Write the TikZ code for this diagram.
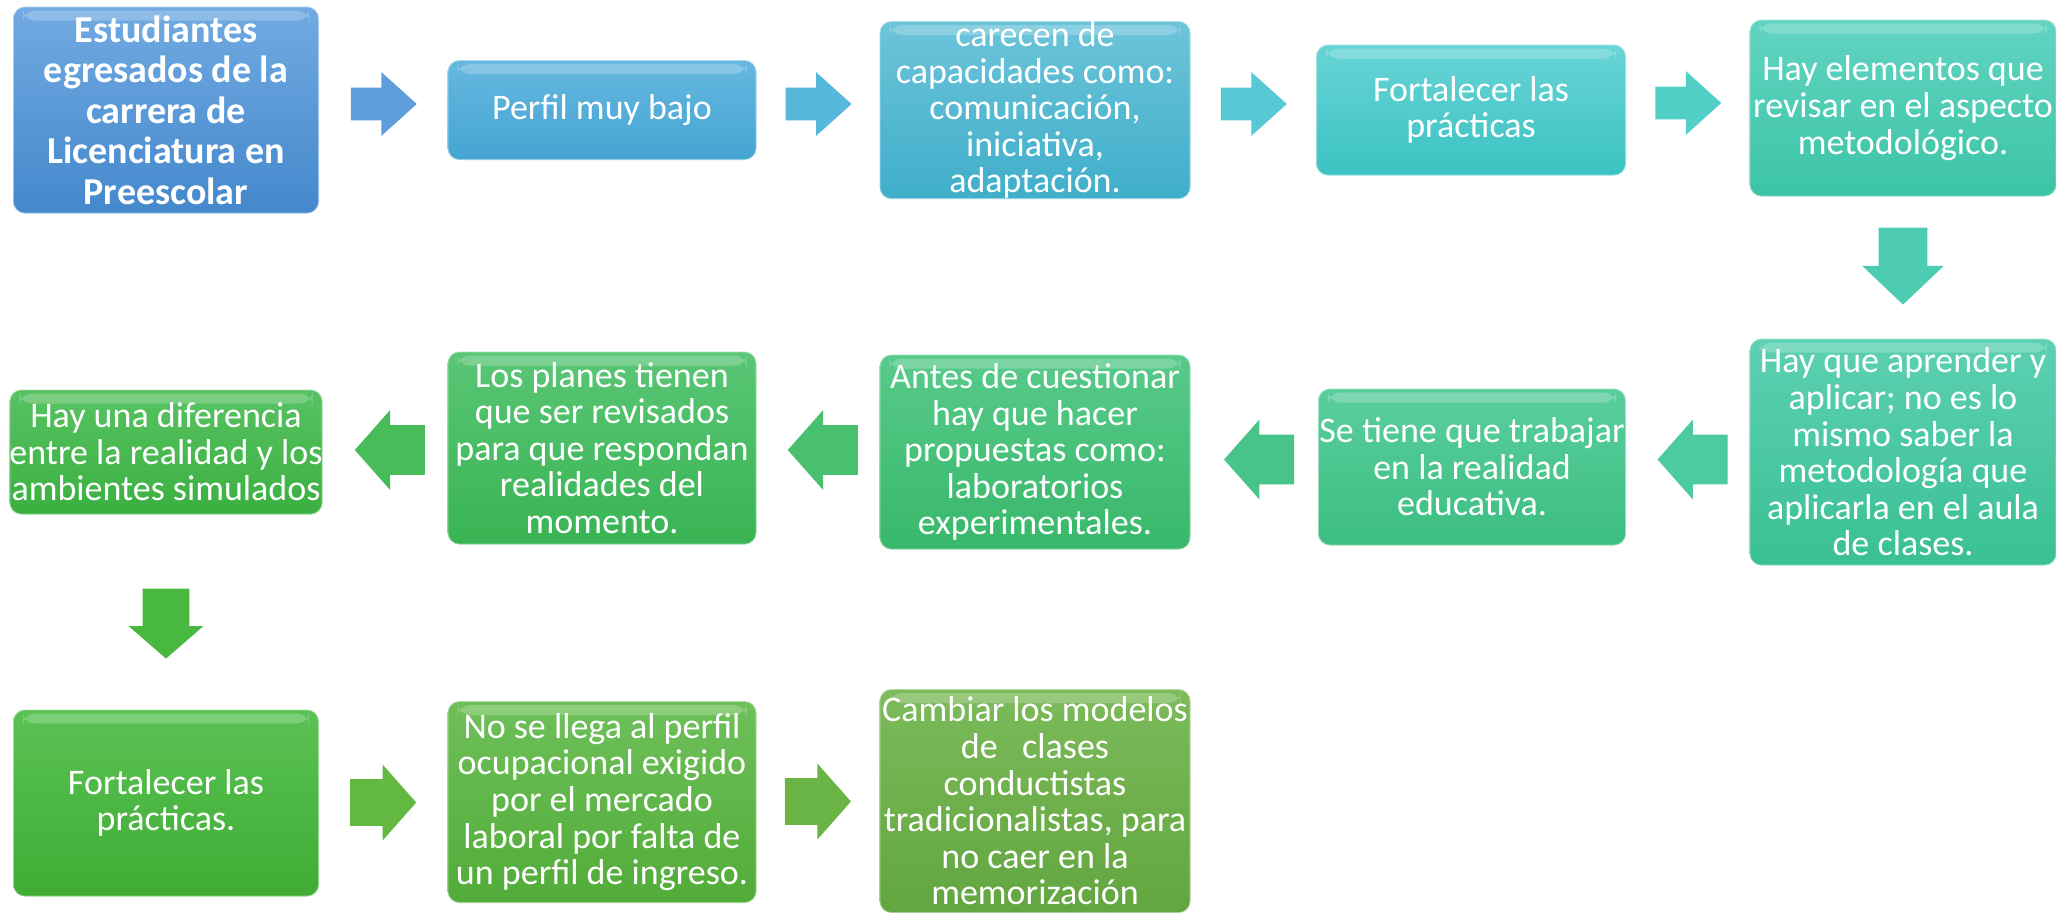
\documentclass[tikz,border=0pt]{standalone}
\usepackage{fontspec}
\setmainfont{Carlito}
\usetikzlibrary{shapes.arrows,calc}

\definecolor{c1t}{HTML}{72AAE2}\definecolor{c1b}{HTML}{4488CC}
\definecolor{c2t}{HTML}{66B8E0}\definecolor{c2b}{HTML}{44A4D2}
\definecolor{c3t}{HTML}{6CC4DA}\definecolor{c3b}{HTML}{40AECA}
\definecolor{c4t}{HTML}{68D4D6}\definecolor{c4b}{HTML}{3CC2C2}
\definecolor{c5t}{HTML}{62D4C2}\definecolor{c5b}{HTML}{3CC4A6}
\definecolor{c6t}{HTML}{5CD0B2}\definecolor{c6b}{HTML}{3AC094}
\definecolor{c7t}{HTML}{5ACE9E}\definecolor{c7b}{HTML}{3CBE80}
\definecolor{c8t}{HTML}{58CA8A}\definecolor{c8b}{HTML}{38B86A}
\definecolor{c9t}{HTML}{5AC676}\definecolor{c9b}{HTML}{38B452}
\definecolor{c10t}{HTML}{58C262}\definecolor{c10b}{HTML}{3AB040}
\definecolor{c11t}{HTML}{5AC254}\definecolor{c11b}{HTML}{40AC34}
\definecolor{c12t}{HTML}{6EC05A}\definecolor{c12b}{HTML}{52AC38}
\definecolor{c13t}{HTML}{7CBA5A}\definecolor{c13b}{HTML}{62A640}
\definecolor{a1c}{HTML}{5E9EDC}\definecolor{a2c}{HTML}{56B8DA}
\definecolor{a3c}{HTML}{56C8D6}\definecolor{a4c}{HTML}{52D0C8}
\definecolor{a5c}{HTML}{4ECCB2}\definecolor{a6c}{HTML}{4CCAA0}
\definecolor{a7c}{HTML}{48C488}\definecolor{a8c}{HTML}{48C070}
\definecolor{a9c}{HTML}{48BC58}\definecolor{a10c}{HTML}{48B840}
\definecolor{a11c}{HTML}{62B840}\definecolor{a12c}{HTML}{6AB446}

\begin{document}
\begin{tikzpicture}[
	x=0.5pt, y=-0.5pt,
	box/.style 2 args={rectangle, rounded corners=6pt, top color=#1, bottom color=#2,
		draw=white, draw opacity=0.45, line width=0.8pt, inner sep=0pt,
		align=center, text=white, font=\fontsize{18}{18.3}\selectfont,
		path picture={\fill[white, opacity=0.22]
			([xshift=5pt,yshift=-2pt]path picture bounding box.north west) rectangle
			([xshift=-5pt,yshift=-7pt]path picture bounding box.north east);}},
	blk/.style={single arrow, draw=none, inner xsep=0pt},
	rarr/.style={blk, inner ysep=8pt, minimum height=33pt, xshift=-4.3pt,
		single arrow head extend=7.75pt, single arrow tip angle=84},
	rarrb/.style={blk, inner ysep=11.5pt, minimum height=33pt, xshift=-5.2pt,
		single arrow head extend=7.25pt, single arrow tip angle=97},
	larr/.style={blk, shape border rotate=180, inner ysep=12.25pt, minimum height=35pt,
		xshift=7.9pt, single arrow head extend=7.5pt, single arrow tip angle=97},
	darr/.style={blk, shape border rotate=270, inner xsep=12pt, inner ysep=0pt,
		minimum height=38.5pt, yshift=6.5pt,
		single arrow head extend=8.25pt, single arrow tip angle=93},
	darrb/.style={blk, shape border rotate=270, inner xsep=11.5pt, inner ysep=0pt,
		minimum height=35pt, yshift=-0.7pt,
		single arrow head extend=7pt, single arrow tip angle=98}
]
\useasboundingbox (0,0) rectangle (2056,912);
\fill[white] (0,0) rectangle (2056,912);

% First row
\node[box={c1t}{c1b}, minimum width=153pt, minimum height=103.5pt,
	font=\fontsize{19}{20.3}\selectfont\bfseries] (estud) at (166,110)
	{Estudiantes\\egresados de la\\carrera de\\Licenciatura en\\Preescolar};
\node[box={c2t}{c2b}, minimum width=154.5pt, minimum height=50pt] (perfil) at (602,110)
	{Perfil muy bajo};
\node[box={c3t}{c3b}, minimum width=155.5pt, minimum height=89pt] (carecen) at (1035,110)
	{carecen de\\capacidades como:\\comunicación,\\iniciativa,\\adaptación.};
\node[box={c4t}{c4b}, minimum width=155pt, minimum height=65.5pt] (fortal) at (1471,110)
	{Fortalecer las\\prácticas};
\node[box={c5t}{c5b}, minimum width=153.5pt, minimum height=88.5pt] (elem) at (1903,108)
	{Hay elementos que\\revisar en el aspecto\\metodológico.};

% Second row
\node[box={c6t}{c6b}, minimum width=153.5pt, minimum height=113.5pt] (aprender) at (1903,452)
	{Hay que aprender y\\aplicar; no es lo\\mismo saber la\\metodología que\\aplicarla en el aula\\de clases.};
\node[box={c7t}{c7b}, minimum width=154pt, minimum height=78.5pt] (trabajar) at (1472,467)
	{Se tiene que trabajar\\en la realidad\\educativa.};
\node[box={c8t}{c8b}, minimum width=155.5pt, minimum height=97.5pt] (antes) at (1035,452)
	{Antes de cuestionar\\hay que hacer\\propuestas como:\\laboratorios\\experimentales.};
\node[box={c9t}{c9b}, minimum width=154.5pt, minimum height=96.5pt] (planes) at (602,448)
	{Los planes tienen\\que ser revisados\\para que respondan\\realidades del\\momento.};
\node[box={c10t}{c10b}, minimum width=153pt, minimum height=62.5pt] (difer) at (166,452)
	{Hay una diferencia\\entre la realidad y los\\ambientes simulados};

% Third row
\node[box={c11t}{c11b}, minimum width=153pt, minimum height=93.5pt] (fortaldos) at (166,803)
	{Fortalecer las\\prácticas.};
\node[box={c12t}{c12b}, minimum width=154.5pt, minimum height=101pt] (llega) at (602,802)
	{No se llega al perfil\\ocupacional exigido\\por el mercado\\laboral por falta de\\un perfil de ingreso.};
\node[box={c13t}{c13b}, minimum width=155.5pt, minimum height=112pt] (cambiar) at (1035,801)
	{Cambiar los modelos\\de~~~clases\\conductistas\\tradicionalistas, para\\no caer en la\\memorización};

% Block arrows between the boxes
\node[rarr, fill=a1c, yshift=3pt] (a1) at ($(estud.east)!0.5!(perfil.west)$) {};
\node[rarr, fill=a2c, yshift=3pt] (a2) at ($(perfil.east)!0.5!(carecen.west)$) {};
\node[rarr, fill=a3c, yshift=3pt] (a3) at ($(carecen.east)!0.5!(fortal.west)$) {};
\node[rarr, fill=a4c, yshift=3pt] (a4) at ($(fortal.east)!0.5!(elem.west)$) {};
\node[darr, fill=a5c] (a5) at ($(elem.south)!0.5!(aprender.north)$) {};
\node[larr, fill=a6c] (a6) at ($(aprender.west)!0.5!(trabajar.east)$) {};
\node[larr, fill=a7c] (a7) at ($(trabajar.west)!0.5!(antes.east)$) {};
\node[larr, fill=a8c] (a8) at ($(antes.west)!0.5!(planes.east)$) {};
\node[larr, fill=a9c] (a9) at ($(planes.west)!0.5!(difer.east)$) {};
\node[darrb, fill=a10c] (a10) at ($(difer.south)!0.5!(fortaldos.north)$) {};
\node[rarrb, fill=a11c] (a11) at ($(fortaldos.east)!0.5!(llega.west)$) {};
\node[rarrb, fill=a12c] (a12) at ($(llega.east)!0.5!(cambiar.west)$) {};
\end{tikzpicture}
\end{document}
